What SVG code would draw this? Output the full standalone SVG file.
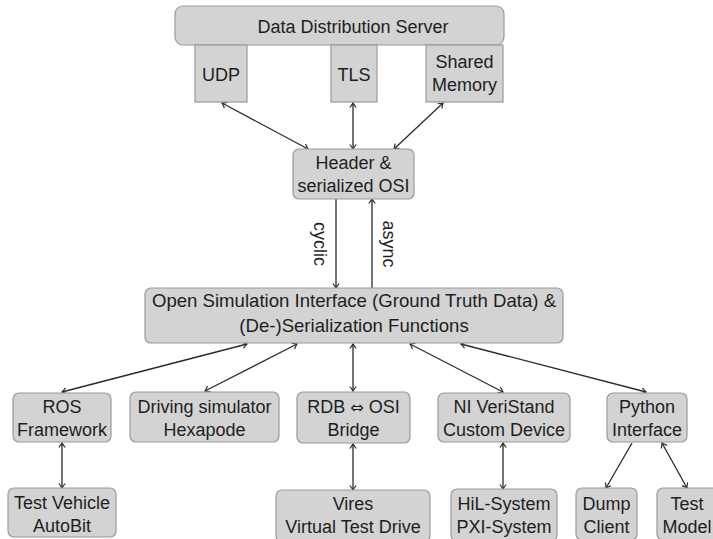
<svg xmlns="http://www.w3.org/2000/svg" width="713" height="539" viewBox="0 0 713 539">
<style>
.box{fill:#d3d3d3;stroke:#9a9a9a;stroke-width:1.2}
.t{font-family:"Liberation Sans","DejaVu Sans",Arial,sans-serif;font-size:18px;fill:#1e1e1e;text-anchor:middle}
.sym{font-family:"DejaVu Sans",sans-serif;font-size:16px}
.c{stroke:#2a2a2a;stroke-width:1.3;fill:none}
</style>
<defs>
<marker id="ah" markerWidth="10" markerHeight="10" refX="0" refY="0" viewBox="-6 -5 8 10" orient="auto-start-reverse" markerUnits="userSpaceOnUse">
<path d="M-4.5,-3.2 Q-1.5,-0.8 0,0 Q-1.5,0.8 -4.5,3.2" fill="none" stroke="#2a2a2a" stroke-width="1.2"/>
</marker>
</defs>
<rect width="713" height="539" fill="#ffffff"/>
<g id="connectors">
<line class="c" x1="222" y1="103" x2="308" y2="149" marker-start="url(#ah)" marker-end="url(#ah)"/>
<line class="c" x1="353" y1="103" x2="353" y2="149" marker-start="url(#ah)" marker-end="url(#ah)"/>
<line class="c" x1="443" y1="103" x2="394" y2="149" marker-start="url(#ah)" marker-end="url(#ah)"/>
<line class="c" x1="336" y1="199" x2="336" y2="288" marker-end="url(#ah)"/>
<line class="c" x1="372" y1="288" x2="372" y2="199" marker-end="url(#ah)"/>
<line class="c" x1="247" y1="344" x2="62" y2="392" marker-start="url(#ah)" marker-end="url(#ah)"/>
<line class="c" x1="297" y1="344" x2="205" y2="391" marker-start="url(#ah)" marker-end="url(#ah)"/>
<line class="c" x1="353" y1="344" x2="353" y2="391" marker-start="url(#ah)" marker-end="url(#ah)"/>
<line class="c" x1="410" y1="344" x2="503" y2="392" marker-start="url(#ah)" marker-end="url(#ah)"/>
<line class="c" x1="461" y1="344" x2="646" y2="392" marker-start="url(#ah)" marker-end="url(#ah)"/>
<line class="c" x1="62" y1="443" x2="62" y2="488" marker-start="url(#ah)" marker-end="url(#ah)"/>
<line class="c" x1="353" y1="444" x2="353" y2="490" marker-start="url(#ah)" marker-end="url(#ah)"/>
<line class="c" x1="503" y1="443" x2="503" y2="489" marker-start="url(#ah)" marker-end="url(#ah)"/>
<line class="c" x1="632" y1="443" x2="606" y2="488" marker-end="url(#ah)"/>
<line class="c" x1="662" y1="443" x2="687" y2="488" marker-start="url(#ah)" marker-end="url(#ah)"/>
<text class="t" transform="translate(314,244) rotate(90)">cyclic</text>
<text class="t" transform="translate(383,244) rotate(90)">async</text>
</g>
<g id="dds">
<rect class="box" x="175" y="6" width="329" height="39" rx="8"/>
<text class="t" x="353" y="33">Data Distribution Server</text>
</g>
<g id="udp">
<rect class="box" x="195" y="45" width="52" height="57"/>
<text class="t" x="221" y="81">UDP</text>
</g>
<g id="tls">
<rect class="box" x="331" y="45" width="46" height="57"/>
<text class="t" x="354" y="81">TLS</text>
</g>
<g id="shm">
<rect class="box" x="426" y="45" width="77" height="57"/>
<text class="t" x="464.5" y="68">Shared</text>
<text class="t" x="464.5" y="91">Memory</text>
</g>
<g id="header">
<rect class="box" x="293" y="149" width="121" height="50" rx="6"/>
<text class="t" x="353.5" y="169">Header &amp;</text>
<text class="t" x="353.5" y="192">serialized OSI</text>
</g>
<g id="osi">
<rect class="box" x="145" y="288" width="418" height="55" rx="6"/>
<text class="t" x="354" y="307" style="font-size:18.6px">Open Simulation Interface (Ground Truth Data) &amp;</text>
<text class="t" x="354" y="332" style="font-size:18.6px">(De-)Serialization Functions</text>
</g>
<g id="ros">
<rect class="box" x="13" y="393" width="98" height="49" rx="6"/>
<text class="t" x="62" y="413">ROS</text>
<text class="t" x="62" y="436">Framework</text>
</g>
<g id="driving">
<rect class="box" x="130" y="392" width="149" height="50" rx="6"/>
<text class="t" x="204.5" y="413">Driving simulator</text>
<text class="t" x="204.5" y="436">Hexapode</text>
</g>
<g id="rdb">
<rect class="box" x="297" y="392" width="113" height="51" rx="6"/>
<text class="t" x="353.5" y="413">RDB <tspan class="sym">⇔</tspan> OSI</text>
<text class="t" x="353.5" y="436">Bridge</text>
</g>
<g id="ni">
<rect class="box" x="438" y="393" width="132" height="49" rx="6"/>
<text class="t" x="504" y="413">NI VeriStand</text>
<text class="t" x="504" y="436">Custom Device</text>
</g>
<g id="python">
<rect class="box" x="607" y="393" width="80" height="49" rx="6"/>
<text class="t" x="647" y="413">Python</text>
<text class="t" x="647" y="436">Interface</text>
</g>
<g id="testvehicle">
<rect class="box" x="8" y="488" width="108" height="49" rx="6"/>
<text class="t" x="62" y="509">Test Vehicle</text>
<text class="t" x="62" y="532">AutoBit</text>
</g>
<g id="vires">
<rect class="box" x="276" y="490" width="154" height="52" rx="6"/>
<text class="t" x="353" y="510">Vires</text>
<text class="t" x="353" y="533">Virtual Test Drive</text>
</g>
<g id="hil">
<rect class="box" x="451" y="489" width="106" height="52" rx="6"/>
<text class="t" x="504" y="510">HiL-System</text>
<text class="t" x="504" y="533">PXI-System</text>
</g>
<g id="dump">
<rect class="box" x="576" y="488" width="61" height="52" rx="6"/>
<text class="t" x="606.5" y="510">Dump</text>
<text class="t" x="606.5" y="533">Client</text>
</g>
<g id="testmodel">
<rect class="box" x="657" y="488" width="62" height="52" rx="6"/>
<text class="t" x="687" y="510">Test</text>
<text class="t" x="687" y="533">Model</text>
</g>
</svg>
